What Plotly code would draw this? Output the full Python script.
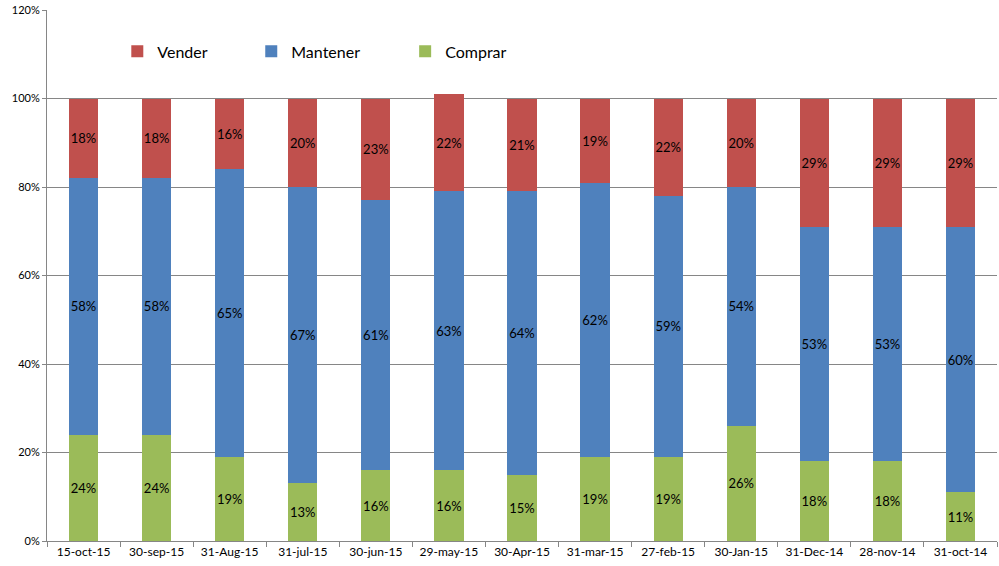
import plotly.graph_objects as go

categories = ["15-oct-15", "30-sep-15", "31-Aug-15", "31-jul-15", "30-jun-15", "29-may-15",
              "30-Apr-15", "31-mar-15", "27-feb-15", "30-Jan-15", "31-Dec-14", "28-nov-14", "31-oct-14"]
comprar = [24, 24, 19, 13, 16, 16, 15, 19, 19, 26, 18, 18, 11]
mantener = [58, 58, 65, 67, 61, 63, 64, 62, 59, 54, 53, 53, 60]
vender = [18, 18, 16, 20, 23, 22, 21, 19, 22, 20, 29, 29, 29]
y_ticks = [0, 0.2, 0.4, 0.6, 0.8, 1.0, 1.2]

FONT = "Lato"
fig = go.Figure()
for name, vals, color, leg in [("Comprar", comprar, "#9BBB59", "legend3"),
                               ("Mantener", mantener, "#4F81BD", "legend2"),
                               ("Vender", vender, "#C0504D", "legend")]:
    fig.add_trace(go.Bar(
        x=categories, y=[v / 100 for v in vals], name=name, legend=leg,
        marker=dict(color=color, line=dict(width=0)),
        text=[f"{v}%" for v in vals], textposition="inside",
        insidetextanchor="middle", textangle=0, constraintext="none",
        textfont=dict(family=FONT, size=13, color="#000000"),
        hoverinfo="skip",
    ))

leg_common = dict(orientation="h", y=0.922, xanchor="left", yanchor="middle",
                  font=dict(family=FONT, size=16, color="#000000"),
                  itemwidth=30, bgcolor="rgba(0,0,0,0)")
fig.update_layout(
    barmode="stack", bargap=0.6,
    width=999, height=566,
    margin=dict(l=47, r=2, t=10, b=25),
    paper_bgcolor="white", plot_bgcolor="white",
    font=dict(family=FONT, size=11, color="#000000"),
    uniformtext=dict(mode=False),
    legend=dict(x=0.074, **leg_common),
    legend2=dict(x=0.215, **leg_common),
    legend3=dict(x=0.377, **leg_common),
    showlegend=True,
)
fig.update_yaxes(range=[0, 1.2], tickvals=y_ticks, tickformat=".0%",
                 showgrid=True, gridcolor="#868686", gridwidth=1,
                 showline=True, linecolor="#868686", linewidth=1,
                 ticks="outside", ticklen=4, tickcolor="#868686", automargin=False,
                 tickfont=dict(family=FONT, size=11, color="#000000"), zeroline=False)
fig.update_xaxes(showline=True, linecolor="#868686", linewidth=1, automargin=False,
                 ticks="outside", ticklen=5, tickcolor="#868686", tickson="boundaries",
                 tickfont=dict(family=FONT, size=12, color="#000000"))

fig.write_html("out.html", config={"displayModeBar": False},
               post_script="document.body.style.margin='0';")
